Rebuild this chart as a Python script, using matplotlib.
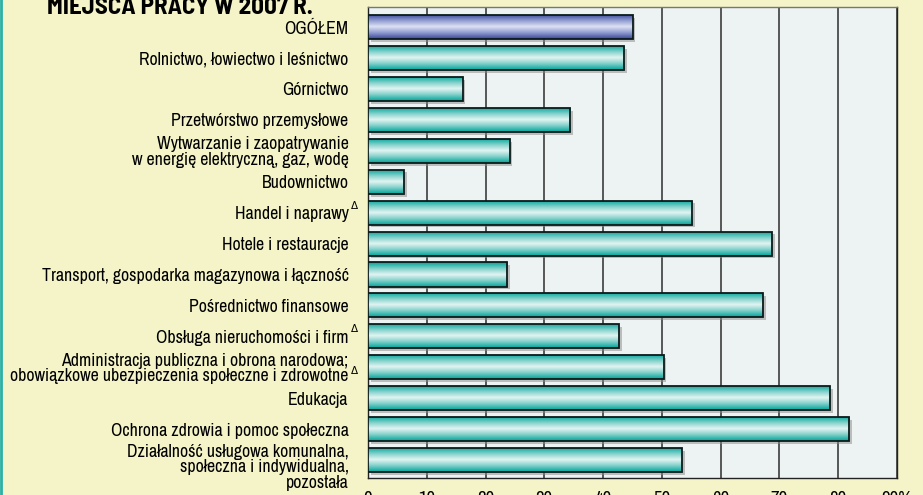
import numpy as np
import matplotlib
matplotlib.use("Agg")
import matplotlib.pyplot as plt
import matplotlib.patheffects as pe
import matplotlib.transforms as mtransforms
from matplotlib.colors import LinearSegmentedColormap

# data (percent)
categories = [
    "OGÓŁEM",
    "Rolnictwo, łowiectwo i leśnictwo",
    "Górnictwo",
    "Przetwórstwo przemysłowe",
    "Wytwarzanie i zaopatrywanie\nw energię elektryczną, gaz, wodę",
    "Budownictwo",
    "Handel i naprawy",
    "Hotele i restauracje",
    "Transport, gospodarka magazynowa i łączność",
    "Pośrednictwo finansowe",
    "Obsługa nieruchomości i firm",
    "Administracja publiczna i obrona narodowa;\nobowiązkowe ubezpieczenia społeczne i zdrowotne",
    "Edukacja",
    "Ochrona zdrowia i pomoc społeczna",
    "Działalność usługowa komunalna,\nspołeczna i indywidualna,\npozostała",
]
values = [45.0, 43.6, 16.1, 34.4, 24.1, 6.1, 55.2, 68.7, 23.7, 67.2, 42.7, 50.3, 78.6, 81.9, 53.4]
marked = ["Handel i naprawy", "Obsługa nieruchomości i firm",
          "Administracja publiczna i obrona narodowa;\nobowiązkowe ubezpieczenia społeczne i zdrowotne"]
xticks = [0, 10, 20, 30, 40, 50, 60, 70, 80, 90]
xtick_labels = ["0", "10", "20", "30", "40", "50", "60", "70", "80", "90%"]
title = "MIEJSCA PRACY W 2007 R."

FONT = ["Archivo Narrow", "DejaVu Sans"]
TITLE_FONT = ["Barlow Semi Condensed", "DejaVu Sans"]
BG = "#f4f4c8"
W, H = 923, 495

fig = plt.figure(figsize=(W / 100, H / 100), dpi=100, facecolor=BG)
ax = fig.add_axes([368 / W, 1 - 478 / H, (897 - 368) / W, (478 - 7) / H])
ax.set_facecolor("#edf3f2")

y = np.arange(len(categories))
bars = ax.barh(y, values, height=0.78, color="#00a89e", zorder=2,
               path_effects=[pe.SimplePatchShadow(offset=(2, -2), shadow_rgbFace="#888888", alpha=0.5),
                             pe.Normal()])

teal = LinearSegmentedColormap.from_list("teal", ["#00a59b", "#7fcfc9", "#e2f5f3", "#7fcfc9", "#00a59b"])
blue = LinearSegmentedColormap.from_list("blue", ["#3a4898", "#8f9bd0", "#dde2f4", "#8f9bd0", "#3a4898"])
grad = np.linspace(0, 1, 64).reshape(-1, 1)

for i, b in enumerate(bars):
    x0, y0 = b.get_x(), b.get_y()
    w, h = b.get_width(), b.get_height()
    cmap = blue if i == 0 else teal
    im = ax.imshow(grad, cmap=cmap, aspect="auto", extent=(x0, x0 + w, y0 + h, y0),
                   zorder=3, interpolation="bilinear")
    im.set_clip_path(b)
    ax.add_patch(plt.Rectangle((x0, y0), w, h, fill=False, edgecolor="#0b1a1a", lw=1.3, zorder=4))

ax.set_xlim(0, 90)
ax.set_ylim(len(categories) - 1 + 0.58, -0.65)
ax.set_xticks(xticks)
ax.set_xticklabels(xtick_labels, family=FONT, fontsize=13.5)
ax.set_yticks(y)
ax.set_yticklabels(categories, family=FONT, fontsize=12.8, linespacing=0.95)
ax.tick_params(axis="y", length=0, pad=14)
ax.tick_params(axis="x", length=0, pad=9)

# the three-line label sits a bit lower than its bar
for lab in ax.get_yticklabels():
    if lab.get_text().count("\n") == 2:
        lab.set_transform(lab.get_transform() +
                          mtransforms.ScaledTranslation(0, -6 / 100, fig.dpi_scale_trans))

ax.grid(axis="x", color="#3c3c3c", lw=1.2, zorder=1)
ax.set_axisbelow(True)
for s in ax.spines.values():
    s.set_color("#222222")
    s.set_linewidth(1.0)
ax.spines["top"].set_color("#777777")

# footnote marks after some labels
for i, cat in enumerate(categories):
    if cat in marked:
        dy = 7 if "\n" not in cat else -4
        ax.annotate("Δ", xy=(0, i), xycoords=("axes fraction", "data"),
                    xytext=(-14, dy), textcoords="offset pixels",
                    ha="center", va="center", fontsize=7.5, family=FONT)

fig.text(47 / W, 1 - 14 / H, title, family=TITLE_FONT, fontsize=18, fontweight="bold",
         ha="left", va="baseline")
fig.add_artist(plt.Line2D([0.001, 0.001], [0, 1], color="#2ab0a8", lw=2, transform=fig.transFigure))

fig.savefig("out.png", dpi=100, facecolor=BG)
